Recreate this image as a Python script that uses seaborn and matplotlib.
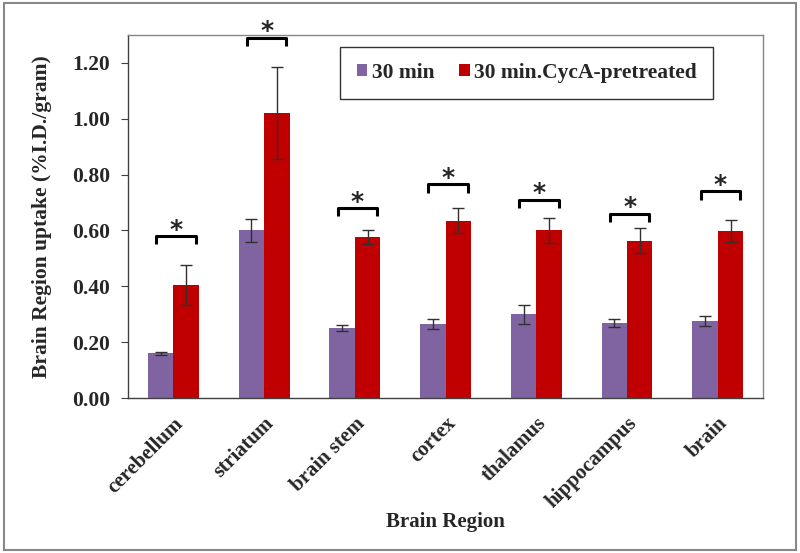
import numpy as np
import pandas as pd
import matplotlib
matplotlib.use("Agg")
import matplotlib.pyplot as plt
import seaborn as sns
from matplotlib.patches import Rectangle

regions = ["cerebellum", "striatum", "brain stem", "cortex", "thalamus", "hippocampus", "brain"]
groups = ["30 min", "30 min.CycA-pretreated"]
uptake_30 = [0.16, 0.60, 0.25, 0.265, 0.30, 0.268, 0.276]
err_30 = [0.005, 0.04, 0.01, 0.018, 0.035, 0.015, 0.017]
uptake_cyca = [0.405, 1.02, 0.577, 0.635, 0.60, 0.563, 0.598]
err_cyca = [0.07, 0.165, 0.025, 0.045, 0.045, 0.045, 0.04]
bracket_y = [0.58, 1.29, 0.68, 0.765, 0.71, 0.66, 0.74]

colors = ["#8064A2", "#C00000"]

df = pd.DataFrame({
    "region": regions * 2,
    "group": [groups[0]] * len(regions) + [groups[1]] * len(regions),
    "value": uptake_30 + uptake_cyca,
})

sns.set_style("white")
plt.rcParams["font.family"] = ["Liberation Serif", "DejaVu Serif"]
plt.rcParams["font.weight"] = "bold"

fig = plt.figure(figsize=(8, 5.53), dpi=100)
ax = fig.add_axes([0.16, 0.28, 0.794, 0.657])

sns.barplot(data=df, x="region", y="value", hue="group", palette=colors,
            width=0.56, errorbar=None, ax=ax, saturation=1, linewidth=0)

for cont, errs in zip(ax.containers, [err_30, err_cyca]):
    xs = [p.get_x() + p.get_width() / 2 for p in cont.patches]
    ys = [p.get_height() for p in cont.patches]
    ax.errorbar(xs, ys, yerr=errs, fmt="none", ecolor="#303030",
                elinewidth=1, capsize=4, capthick=1)

# significance brackets
c0 = ax.containers[0].patches
c1 = ax.containers[1].patches
for p0, p1, by in zip(c0, c1, bracket_y):
    w = p0.get_width()
    mid = p1.get_x() + 0.1 * w
    x0 = mid - 0.78 * w
    x1 = mid + 0.78 * w
    ax.plot([x0, x0, x1, x1], [by - 0.03, by, by, by - 0.03], color="black",
            lw=2.2, clip_on=False, solid_capstyle="butt")
    ax.text(mid, by - 0.02, "*", ha="center", va="bottom",
            fontsize=18, fontweight="bold", family="DejaVu Sans")

ax.set_ylim(0, 1.3)
ax.set_yticks(np.arange(0, 1.21, 0.2))
ax.set_yticklabels([f"{v:.2f}" for v in np.arange(0, 1.21, 0.2)], fontsize=15.5, fontweight="bold")
ax.set_xlim(-0.5, len(regions) - 0.5)
ax.set_xticks(range(len(regions)))
ax.set_xticklabels(regions, rotation=45, ha="right", rotation_mode="anchor",
                   fontsize=15, fontweight="bold")
ax.set_xticks(np.arange(0.5, len(regions) - 0.5, 1), minor=True)
ax.tick_params(axis="x", which="major", length=0, pad=11)
ax.tick_params(axis="x", which="minor", length=5, direction="in", color="#404040")
ax.tick_params(axis="y", length=5, direction="out", color="#404040", left=True, pad=8)

for s in ax.spines.values():
    s.set_color("#868686")
    s.set_linewidth(1)
ax.spines["bottom"].set_color("#404040")
ax.spines["left"].set_color("#404040")

ax.set_xlabel("Brain Region", fontsize=15, fontweight="bold", labelpad=0)
ax.set_ylabel("Brain Region uptake (%I.D./gram)", fontsize=15.5, fontweight="bold", labelpad=14)

leg = ax.legend(loc="upper right", bbox_to_anchor=(0.921, 0.967), ncol=2,
                frameon=True, fancybox=False, handlelength=0.5,
                handleheight=0.5, handletextpad=0.2, columnspacing=1.15,
                borderpad=0.75, borderaxespad=0, prop={"weight": "bold", "size": 15.5})
leg.get_frame().set_edgecolor("black")
leg.get_frame().set_linewidth(1)

fig.patches.append(Rectangle((0.005, 0.005), 0.99, 0.99, transform=fig.transFigure,
                             fill=False, edgecolor="#888888", lw=1.5))

fig.savefig("out.png", dpi=100)
